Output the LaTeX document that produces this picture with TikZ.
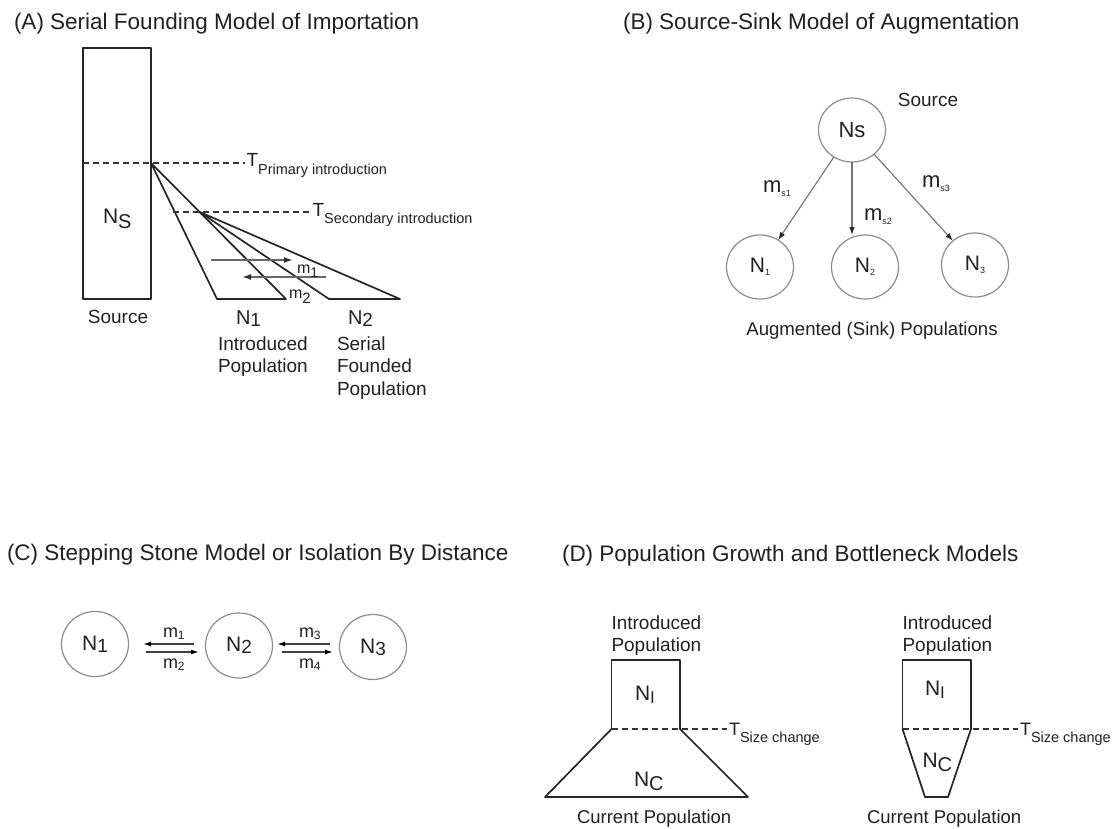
\documentclass[tikz,border=0pt]{standalone}
\usepackage{fontspec}
\setmainfont{Liberation Sans}
\usetikzlibrary{arrows.meta,shapes.geometric,calc}
\newcommand\fs[1]{\fontsize{#1}{#1}\selectfont}
\newcommand\lowsub[3]{\raisebox{-#2pt}{\fs{#1}#3}}
\begin{document}
\begin{tikzpicture}[x=1pt,y=-1pt,
  every node/.style={inner sep=0pt, outer sep=0pt, text=black!87},
  ttl/.style={anchor=west, font=\fs{22.5}},
  lbl/.style={anchor=base west, font=\fs{19}},
  clbl/.style={anchor=base, font=\fs{19}},
  shapeline/.style={line width=1.7pt, draw=black!85, line join=round, line cap=round},
  dashline/.style={line width=1.4pt, draw=black!80, dash pattern=on 6pt off 4pt},
  pop/.style={ellipse, draw=black!45, line width=1.2pt, minimum width=67pt, minimum height=64pt, font=\fs{21}},
  garr/.style={draw=black!55, line width=1.1pt, -{Latex[length=8pt,width=5.5pt,color=black!85]}},
  aarr/.style={draw=black!60, line width=1.6pt, -{Latex[length=9pt,width=6pt,color=black!80]}},
  carr/.style={draw=black!75, line width=1.4pt, -{Latex[length=8pt,width=5pt,color=black]}},
]
\fill[white] (0,0) rectangle (1118,828);
\useasboundingbox (0,0) rectangle (1118,828);

% ---------- titles
\node[ttl] (tA) at (14,24) {(A) Serial Founding Model of Importation};
\node[ttl] (tB) at (623,24) {(B) Source-Sink Model of Augmentation};
\node[ttl] (tC) at (7,555) {(C) Stepping Stone Model or Isolation By Distance};
\node[ttl] (tD) at (562,556) {(D) Population Growth and Bottleneck Models};

% ---------- panel A
\node[draw, shapeline, anchor=north west, minimum width=68pt, minimum height=251pt] (src) at (83,48) {};
\node[anchor=base west, font=\fs{21}] (NS) at (103,223) {N\lowsub{20}{5}{S}};

\coordinate (p1) at (151,163);
\coordinate (a1) at (217,299);
\coordinate (a2) at (286,299);
\coordinate (p2) at ($(p1)!0.36!(a2)$);
\coordinate (b1) at (329,299);
\coordinate (b2) at (400,299);
\draw[shapeline] (p1) -- (a1) -- (a2) -- cycle;
\draw[shapeline] (p2) -- (b1) -- (b2) -- cycle;

\coordinate (d1) at (245,163);
\draw[dashline] (src.west |- p1) -- (d1);
\node[anchor=base west, font=\fs{19}] (Tp) at (246.5,166) {T\lowsub{14.5}{8}{Primary introduction}};
\coordinate (d2s) at (173,212);
\coordinate (d2) at (311,212);
\draw[dashline] (d2s) -- (d2);
\node[anchor=base west, font=\fs{19}] (Ts) at (312.5,216) {T\lowsub{14.5}{7}{Secondary introduction}};

\coordinate (m1a) at (211,260);
\coordinate (m1b) at (293,260);
\coordinate (m2a) at (326,277);
\coordinate (m2b) at (242,277);
\draw[aarr] (m1a) -- (m1b);
\draw[aarr] (m2a) -- (m2b);
\node[anchor=base west, font=\fs{16}] (lm1) at (297,273) {m\lowsub{14}{4}{1}};
\node[anchor=base west, font=\fs{16}] (lm2) at (289,298) {m\lowsub{15}{5}{2}};

\node[clbl] (lsrc) at (118,323) {Source};
\node[anchor=base west, font=\fs{20}] (lN1) at (236,324) {N\lowsub{19}{2}{1}};
\node[anchor=base west, font=\fs{20}] (lN2) at (348,324) {N\lowsub{19}{2}{2}};
\node[lbl] (i1) at (218,350) {Introduced};
\node[lbl] (i2) at (218,372) {Population};
\node[lbl] (s1) at (337,350) {Serial};
\node[lbl] (s2) at (337,372.5) {Founded};
\node[lbl] (s3) at (337,395) {Population};

% ---------- panel B
\node[pop, font=\fs{22}] (bS) at (852,130) {Ns};
\node[pop] (bN1) at (760,267) {N\lowsub{9}{3}{1}};
\node[pop] (bN2) at (865,267) {N\lowsub{9}{3}{2}};
\node[pop] (bN3) at (975,265) {N\lowsub{9}{3}{3}};
\draw[garr] (bS) -- (bN1);
\draw[garr] (bS.south) -- (bS.south |- bN2.north);
\draw[garr] (bS) -- (bN3);
\node[anchor=base west, font=\fs{22}] (ms1) at (763,192) {m\lowsub{9}{4}{s1}};
\node[anchor=base west, font=\fs{22}] (ms2) at (864,220) {m\lowsub{9}{4}{s2}};
\node[anchor=base west, font=\fs{22}] (ms3) at (922,187) {m\lowsub{9}{4}{s3}};
\node[clbl] (bsrc) at (928,106.5) {Source};
\node[clbl, font=\fs{18.6}] (aug) at (872,335) {Augmented (Sink) Populations};

% ---------- panel C
\begin{scope}[pop/.append style={minimum height=65pt}]
\node[pop] (c1) at (95,644) {N\lowsub{19}{2}{1}};
\node[pop] (c2) at (239,645.5) {N\lowsub{19}{2}{2}};
\node[pop] (c3) at (373,647) {N\lowsub{19}{2}{3}};
\end{scope}
\draw[carr, shorten <=11.5pt, shorten >=14.5pt] ([yshift=1.5pt]c2.west) -- (c1.east);
\draw[carr, shorten <=17.5pt, shorten >=6.5pt] ([yshift=-8pt]c1.east) -- ([yshift=-6.5pt]c2.west);
\draw[carr, shorten <=9.5pt, shorten >=4.5pt] ([yshift=3pt]c3.west) -- ([yshift=1.5pt]c2.east);
\draw[carr, shorten <=9.5pt, shorten >=6.5pt] ([yshift=-6.5pt]c2.east) -- ([yshift=-5pt]c3.west);
\node[anchor=base west, font=\fs{18}] (cm1) at (163,637) {m\lowsub{12}{2}{1}};
\node[anchor=base west, font=\fs{18}] (cm2) at (163,668) {m\lowsub{12}{2}{2}};
\node[anchor=base west, font=\fs{18}] (cm3) at (299,637) {m\lowsub{12}{2}{3}};
\node[anchor=base west, font=\fs{18}] (cm4) at (299,668) {m\lowsub{12}{2}{4}};

% ---------- panel D, growth
\coordinate (L1) at (611.5,660);
\coordinate (L2) at (680,660);
\coordinate (L3) at (680,729);
\coordinate (L4) at (611.5,729);
\coordinate (L5) at (748,797);
\coordinate (L6) at (545,797);
\coordinate (Ld) at (727,729);
\draw[shapeline] (L4) -- (L1) -- (L2) -- (L3);
\draw[shapeline] (L4) -- (L6) -- (L5) -- (L3);
\draw[dashline] (L4) -- (Ld);
\node[anchor=base west, font=\fs{18}] (TL) at (729,735) {T\lowsub{14.5}{7}{Size change}};
\node[anchor=base west, font=\fs{21}] (NIL) at (635,700) {N\lowsub{17}{3}{I}};
\node[anchor=base west, font=\fs{21}] (NCL) at (634,786) {N\lowsub{20}{4}{C}};
\node[lbl] (LI1) at (611.5,629) {Introduced};
\node[lbl] (LI2) at (611.5,651) {Population};
\node[lbl, font=\fs{18.5}] (LC) at (577,823.5) {Current Population};

% ---------- panel D, bottleneck
\coordinate (R1) at (902.5,660);
\coordinate (R2) at (971,660);
\coordinate (R3) at (971,729);
\coordinate (R4) at (902.5,729);
\coordinate (R5) at (948,797);
\coordinate (R6) at (925,797);
\coordinate (Rd) at (1018,729);
\draw[shapeline] (R4) -- (R1) -- (R2) -- (R3);
\draw[shapeline] (R4) -- (R6) -- (R5) -- (R3);
\draw[dashline] (R4) -- (Rd);
\node[anchor=base west, font=\fs{18}] (TR) at (1020,735) {T\lowsub{14.5}{7}{Size change}};
\node[anchor=base west, font=\fs{21}] (NIR) at (925,695) {N\lowsub{17}{3}{I}};
\node[anchor=base west, font=\fs{21}] (NCR) at (922.5,767) {N\lowsub{20}{4}{C}};
\node[lbl] (RI1) at (902.5,629) {Introduced};
\node[lbl] (RI2) at (902.5,651) {Population};
\node[lbl, font=\fs{18.5}] (RC) at (867,823.5) {Current Population};
\end{tikzpicture}
\end{document}
